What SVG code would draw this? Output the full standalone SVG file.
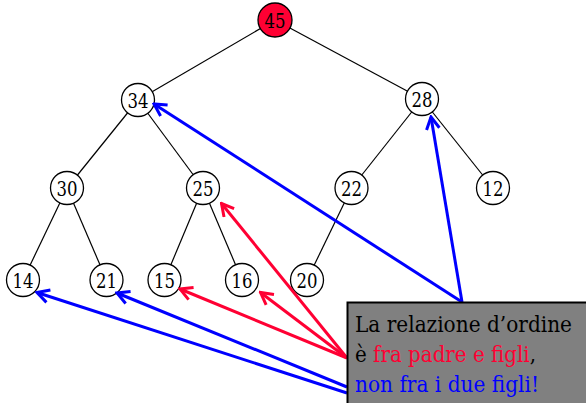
<svg xmlns="http://www.w3.org/2000/svg" width="586" height="403" viewBox="0 0 586 403">
  <style>
    .edge { stroke: #000; stroke-width: 1.2; fill: none; }
    .node circle { fill: #fff; stroke: #000; stroke-width: 1.3; }
    .root circle { fill: #ff0033; }
    .red { stroke: #ff0033; stroke-width: 3; fill: none; }
    .blue { stroke: #0000ff; stroke-width: 3; fill: none; }
  </style>
  <defs>
    <marker id="head-red" markerUnits="userSpaceOnUse" viewBox="-14 -8 16 16" markerWidth="16" markerHeight="16" refX="0" refY="0" orient="auto">
      <path d="M-12,-6.5 L0,0 L-12,6.5" fill="none" stroke="#ff0033" stroke-width="3"/>
    </marker>
    <marker id="head-blue" markerUnits="userSpaceOnUse" viewBox="-14 -8 16 16" markerWidth="16" markerHeight="16" refX="0" refY="0" orient="auto">
      <path d="M-12,-6.5 L0,0 L-12,6.5" fill="none" stroke="#0000ff" stroke-width="3"/>
    </marker>
  </defs>

  <!-- tree edges -->
  <g id="edges">
    <line class="edge" x1="275" y1="20" x2="138" y2="100"/>
    <line class="edge" x1="275" y1="20" x2="422" y2="99"/>
    <line class="edge" x1="138" y1="100" x2="67" y2="188"/>
    <line class="edge" x1="138" y1="100" x2="203" y2="188"/>
    <line class="edge" x1="422" y1="99" x2="351.5" y2="188"/>
    <line class="edge" x1="422" y1="99" x2="493" y2="188"/>
    <line class="edge" x1="67" y1="188" x2="23" y2="280"/>
    <line class="edge" x1="67" y1="188" x2="106.5" y2="280"/>
    <line class="edge" x1="203" y1="188" x2="164.5" y2="280"/>
    <line class="edge" x1="203" y1="188" x2="242" y2="280"/>
    <line class="edge" x1="351.5" y1="188" x2="307" y2="280"/>
  </g>

  <!-- heap nodes -->
  <g font-family="DejaVu Serif" font-size="20" text-anchor="middle" fill="#000">
    <g id="n45" class="node root"><circle cx="275" cy="20" r="17"/><text x="275" y="27.5" textLength="21" lengthAdjust="spacingAndGlyphs">45</text></g>
    <g id="n34" class="node"><circle cx="138" cy="100" r="16.5"/><text x="138" y="107.5" textLength="21" lengthAdjust="spacingAndGlyphs">34</text></g>
    <g id="n28" class="node"><circle cx="422" cy="99" r="16.5"/><text x="422" y="106.5" textLength="21" lengthAdjust="spacingAndGlyphs">28</text></g>
    <g id="n30" class="node"><circle cx="67" cy="188" r="16.5"/><text x="67" y="195.5" textLength="21" lengthAdjust="spacingAndGlyphs">30</text></g>
    <g id="n25" class="node"><circle cx="203" cy="188" r="16.5"/><text x="203" y="195.5" textLength="21" lengthAdjust="spacingAndGlyphs">25</text></g>
    <g id="n22" class="node"><circle cx="351.5" cy="188" r="16.5"/><text x="351.5" y="195.5" textLength="21" lengthAdjust="spacingAndGlyphs">22</text></g>
    <g id="n12" class="node"><circle cx="493" cy="188" r="16.5"/><text x="493" y="195.5" textLength="21" lengthAdjust="spacingAndGlyphs">12</text></g>
    <g id="n14" class="node"><circle cx="23" cy="280" r="16.5"/><text x="23" y="287.5" textLength="21" lengthAdjust="spacingAndGlyphs">14</text></g>
    <g id="n21" class="node"><circle cx="106.5" cy="280" r="16.5"/><text x="106.5" y="287.5" textLength="21" lengthAdjust="spacingAndGlyphs">21</text></g>
    <g id="n15" class="node"><circle cx="164.5" cy="280" r="16.5"/><text x="164.5" y="287.5" textLength="21" lengthAdjust="spacingAndGlyphs">15</text></g>
    <g id="n16" class="node"><circle cx="242" cy="280" r="16.5"/><text x="242" y="287.5" textLength="21" lengthAdjust="spacingAndGlyphs">16</text></g>
    <g id="n20" class="node"><circle cx="307" cy="280" r="16.5"/><text x="307" y="287.5" textLength="21" lengthAdjust="spacingAndGlyphs">20</text></g>
  </g>

  <!-- pointer arrows from the note -->
  <g id="connectors">
    <line class="blue" x1="462" y1="302" x2="154" y2="104" marker-end="url(#head-blue)"/>
    <line class="blue" x1="462" y1="302" x2="431" y2="117" marker-end="url(#head-blue)"/>
    <line class="red" x1="347" y1="358" x2="221.5" y2="203.5" marker-end="url(#head-red)"/>
    <line class="red" x1="347" y1="358" x2="180" y2="289" marker-end="url(#head-red)"/>
    <line class="red" x1="347" y1="358" x2="260.5" y2="292.5" marker-end="url(#head-red)"/>
    <line class="blue" x1="347" y1="387" x2="117" y2="293" marker-end="url(#head-blue)"/>
    <line class="blue" x1="347" y1="393" x2="37" y2="292.5" marker-end="url(#head-blue)"/>
  </g>

  <!-- note box -->
  <g id="note" font-family="DejaVu Serif" font-size="22">
    <rect x="347.5" y="302.5" width="245" height="110" fill="#808080" stroke="#000" stroke-width="2"/>
    <text x="355" y="332" fill="#000" textLength="217" lengthAdjust="spacingAndGlyphs">La relazione d’ordine</text>
    <text x="355" y="362" fill="#000" textLength="181" lengthAdjust="spacingAndGlyphs">è <tspan fill="#ff0033">fra padre e figli</tspan>,</text>
    <text x="355" y="391.5" fill="#0000ff" textLength="184" lengthAdjust="spacingAndGlyphs">non fra i due figli!</text>
  </g>
</svg>
